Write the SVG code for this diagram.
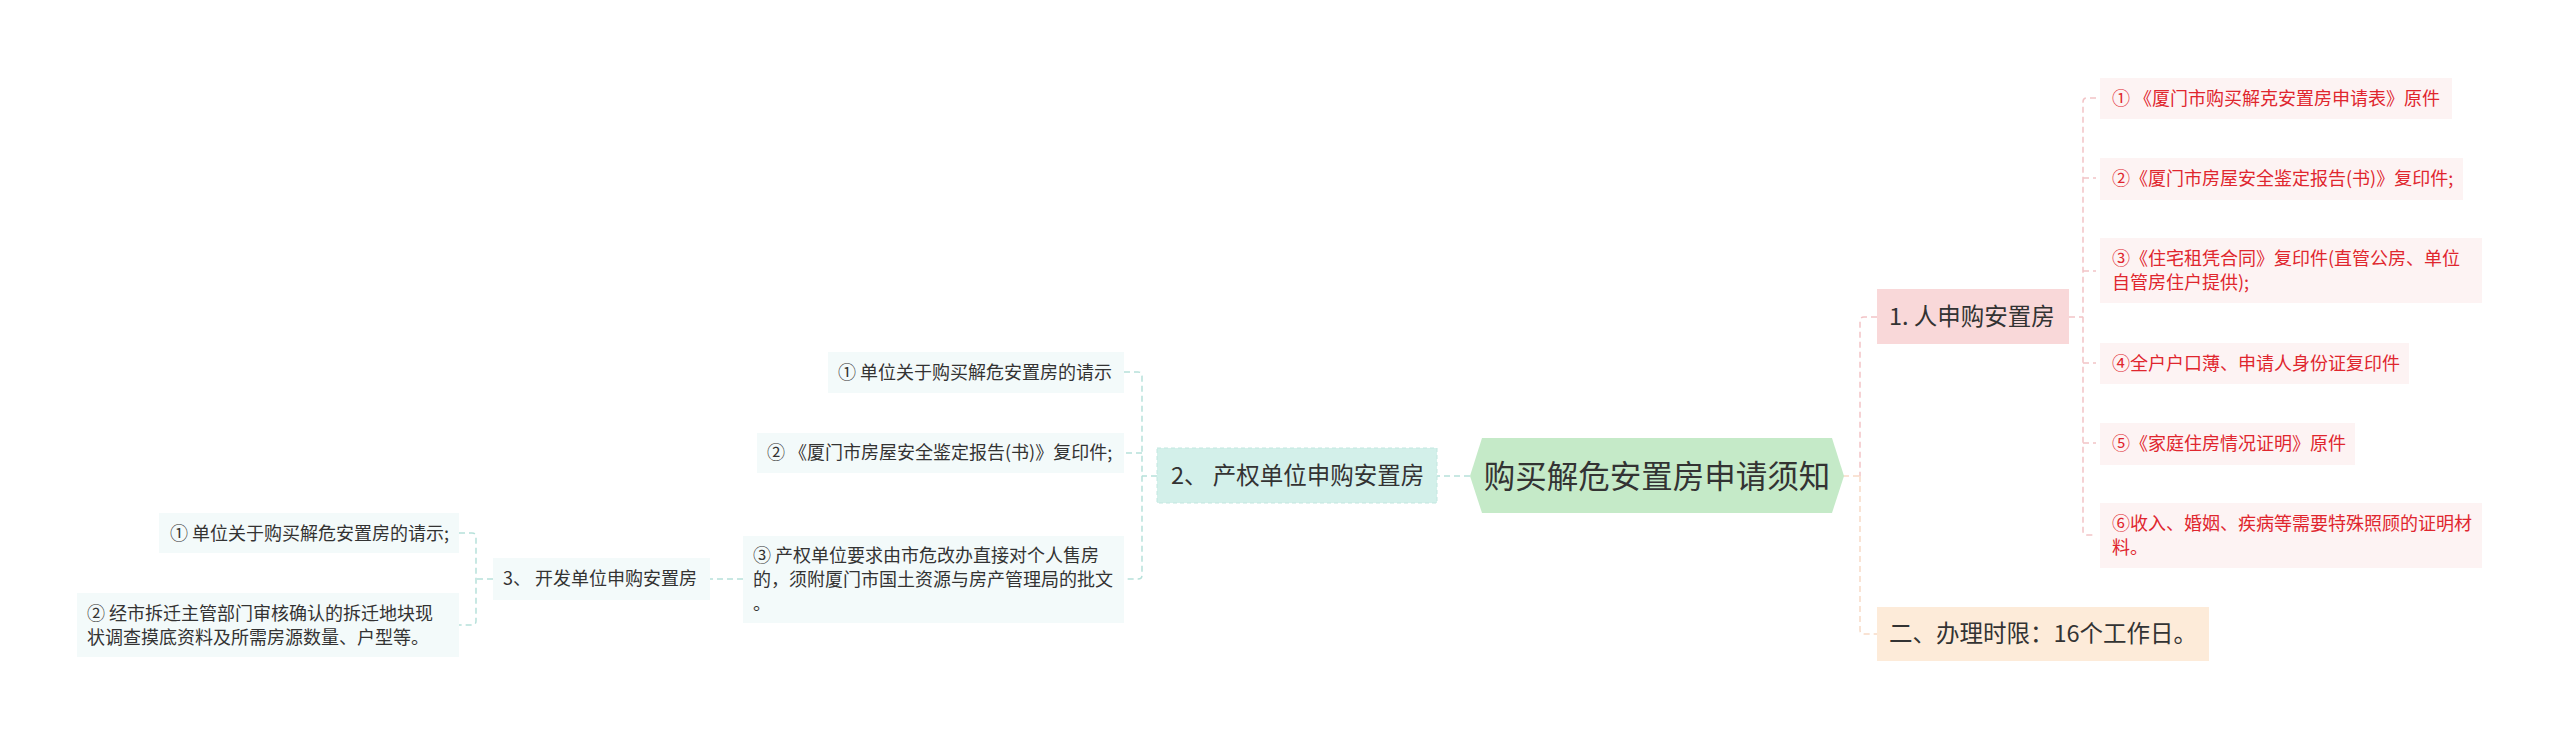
<svg xmlns="http://www.w3.org/2000/svg" width="2560" height="740" viewBox="0 0 2560 740">
<style>
text{font-family:"Noto Sans CJK SC","Microsoft YaHei",sans-serif;}
.c{fill:none;stroke-width:1.5;stroke-dasharray:6 4;}
.teal{stroke:#b7e1da;}
.pink{stroke:#f2c3c6;}
.peach{stroke:#f7dac6;}
.t18{font-size:18px;fill:#333333;}
.r18{font-size:18px;fill:#e0262e;}
.t23{font-size:23.5px;fill:#333333;}
.ritem{fill:#fdf3f3;}
.litem{fill:#f3fafa;}
</style>
<rect width="2560" height="740" fill="#ffffff"/>
<g id="connectors">
<path class="c peach" d="M1843,476 H1860"/>
<path class="c pink" d="M1877,317 H1864 Q1860,317 1860,321 V476"/>
<path class="c peach" d="M1860,476 V630 Q1860,634 1864,634 H1877"/>
<path class="c pink" d="M2069,317 H2083"/>
<path class="c pink" d="M2096,98 H2087 Q2083,98 2083,102 V531 Q2083,535 2087,535 H2096"/>
<path class="c pink" d="M2083,178 H2096 M2083,271 H2096 M2083,363 H2096 M2083,443 H2096"/>
<path class="c teal" d="M1470,476 H1437"/>
<path class="c teal" d="M1157,476 H1142"/>
<path class="c teal" d="M1124,372 H1138 Q1142,372 1142,376 V575 Q1142,579 1138,579 H1124"/>
<path class="c teal" d="M1142,453 H1124"/>
<path class="c teal" d="M743,579 H710"/>
<path class="c teal" d="M493,579 H476"/>
<path class="c teal" d="M459,533 H472 Q476,533 476,537 V621 Q476,625 472,625 H459"/>
</g>
<g id="root">
<polygon points="1470,476 1482,438 1832,438 1844,476 1832,513 1482,513" fill="#c5eac8"/>
<text x="1657" y="488" font-size="31.5" fill="#333333" text-anchor="middle">购买解危安置房申请须知</text>
</g>
<g id="n1">
<rect x="1877" y="289" width="192" height="55" fill="#f9d8d9"/>
<text class="t23" x="1889" y="325">1. 人申购安置房</text>
</g>
<g id="n1-1">
<rect class="ritem" x="2100" y="78" width="352" height="41"/>
<text class="r18" x="2112" y="105">① 《厦门市购买解克安置房申请表》原件</text>
</g>
<g id="n1-2">
<rect class="ritem" x="2100" y="158" width="363" height="42"/>
<text class="r18" x="2112" y="185">②《厦门市房屋安全鉴定报告(书)》复印件;</text>
</g>
<g id="n1-3">
<rect class="ritem" x="2100" y="238" width="382" height="65"/>
<text class="r18" x="2112" y="265">③《住宅租凭合同》复印件(直管公房、单位<tspan x="2112" y="289">自管房住户提供);</tspan></text>
</g>
<g id="n1-4">
<rect class="ritem" x="2100" y="343" width="309" height="41"/>
<text class="r18" x="2112" y="370">④全户户口薄、申请人身份证复印件</text>
</g>
<g id="n1-5">
<rect class="ritem" x="2100" y="423" width="255" height="42"/>
<text class="r18" x="2112" y="450">⑤《家庭住房情况证明》原件</text>
</g>
<g id="n1-6">
<rect class="ritem" x="2100" y="503" width="382" height="65"/>
<text class="r18" x="2112" y="530">⑥收入、婚姻、疾病等需要特殊照顾的证明材<tspan x="2112" y="554">料。</tspan></text>
</g>
<g id="n-time">
<rect x="1877" y="607" width="332" height="54" fill="#fdebd9"/>
<text class="t23" x="1889" y="642">二、办理时限：16个工作日。</text>
</g>
<g id="n2">
<rect x="1157" y="448" width="280" height="55" fill="#d3f0ea" stroke="#c2e7e0" stroke-width="1" stroke-dasharray="4 3"/>
<text class="t23" x="1171" y="484">2、 产权单位申购安置房</text>
</g>
<g id="n2-1">
<rect class="litem" x="828" y="352" width="296" height="41"/>
<text class="t18" x="838" y="379">① 单位关于购买解危安置房的请示</text>
</g>
<g id="n2-2">
<rect class="litem" x="757" y="433" width="367" height="40"/>
<text class="t18" x="767" y="459">② 《厦门市房屋安全鉴定报告(书)》复印件;</text>
</g>
<g id="n2-3">
<rect class="litem" x="743" y="536" width="381" height="87"/>
<text class="t18" x="753" y="562">③ 产权单位要求由市危改办直接对个人售房<tspan x="753" y="586">的，须附厦门市国土资源与房产管理局的批文</tspan><tspan x="753" y="610">。</tspan></text>
</g>
<g id="n3">
<rect class="litem" x="493" y="558" width="217" height="42"/>
<text class="t18" x="503" y="585">3、 开发单位申购安置房</text>
</g>
<g id="n3-1">
<rect class="litem" x="159" y="513" width="300" height="40"/>
<text class="t18" x="170" y="540">① 单位关于购买解危安置房的请示;</text>
</g>
<g id="n3-2">
<rect class="litem" x="77" y="593" width="382" height="64"/>
<text class="t18" x="87" y="620">② 经市拆迁主管部门审核确认的拆迁地块现<tspan x="87" y="644">状调查摸底资料及所需房源数量、户型等。</tspan></text>
</g>
</svg>
